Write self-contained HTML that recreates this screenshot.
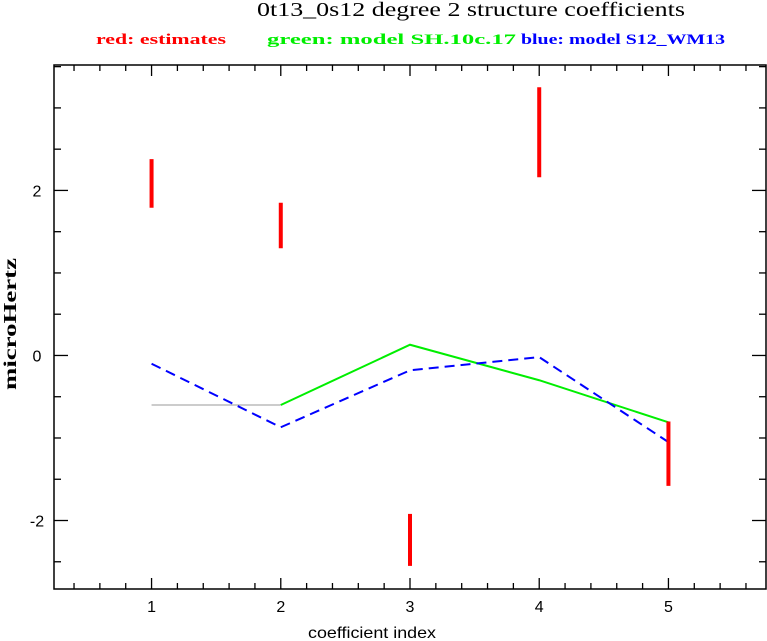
<!DOCTYPE html>
<html><head><meta charset="utf-8"><style>
body{margin:0;background:#fff;}
svg{display:block;font-family:"Liberation Sans",sans-serif;}
</style></head><body>
<svg id="chart" width="767" height="641" viewBox="0 0 767 641" xmlns="http://www.w3.org/2000/svg">
<text x="257" y="16" textLength="428" lengthAdjust="spacingAndGlyphs" font-family="Liberation Serif, serif" font-size="20">0t13_0s12 degree 2 structure coefficients</text>
<text x="96" y="44" textLength="130" lengthAdjust="spacingAndGlyphs" font-family="Liberation Serif, serif" font-weight="bold" font-size="15" fill="#ff0000">red: estimates</text>
<text x="267" y="44" textLength="249" lengthAdjust="spacingAndGlyphs" font-family="Liberation Serif, serif" font-weight="bold" font-size="15" fill="#00ee00">green: model SH.10c.17</text>
<text x="521" y="44" textLength="204" lengthAdjust="spacingAndGlyphs" font-family="Liberation Serif, serif" font-weight="bold" font-size="15" fill="#0000ff">blue: model S12_WM13</text>
<rect x="54" y="65" width="712" height="524" fill="none" stroke="#000" stroke-width="1.5"/>
<g id="axes"></g>
<g id="marks"></g>
<text x="308" y="638" textLength="128" lengthAdjust="spacingAndGlyphs" font-size="16">coefficient index</text>
<text transform="translate(16,324) rotate(-90)" text-anchor="middle" textLength="132" lengthAdjust="spacingAndGlyphs" font-family="Liberation Serif, serif" font-weight="bold" font-size="18">microHertz</text>
</svg>
<script>
const categories=[1,2,3,4,5];
const estLow=[1.79,1.3,-2.55,2.16,-1.58];
const estHigh=[2.38,1.85,-1.92,3.25,-0.8];
const greenModel=[-0.6,-0.6,0.13,-0.3,-0.81];
const blueModel=[-0.1,-0.87,-0.18,-0.02,-1.05];
const xTicks=[1,2,3,4,5];
const yTicks=[-2,0,2];
const NS="http://www.w3.org/2000/svg";
const X0=54,X1=766,Y0=589,Y1=65,xmin=0.245,xmax=5.755,ymin=-2.83,ymax=3.52;
const sx=v=>X0+(v-xmin)/(xmax-xmin)*(X1-X0);
const sy=v=>Y0-(v-ymin)/(ymax-ymin)*(Y0-Y1);
function mk(tag,attrs,parent){const e=document.createElementNS(NS,tag);for(const k in attrs)e.setAttribute(k,attrs[k]);parent.appendChild(e);return e;}
const axes=document.getElementById('axes'),marks=document.getElementById('marks');
for(let v=0.4;v<5.75;v+=0.2){const r=Math.round(v*5)/5;const major=Math.abs(r-Math.round(r))<1e-6;const L=major?11:6;const x=sx(r);
 const t=mk('line',{x1:x,x2:x,y1:Y0,y2:Y0-L,stroke:'#000','stroke-width':1.3},axes);
 
 
 const t2=mk('line',{x1:x,x2:x,y1:Y1,y2:Y1+L,stroke:'#000','stroke-width':1.3},axes);
 
 }
for(let v=-2.5;v<=3.5;v+=0.5){const major=Math.abs(v/2-Math.round(v/2))<1e-6;const L=major?14:7;const y=sy(v);
 const t=mk('line',{x1:X0,x2:X0+L,y1:y,y2:y,stroke:'#000','stroke-width':1.3},axes);
 
 
 const t2=mk('line',{x1:X1,x2:X1-L,y1:y,y2:y,stroke:'#000','stroke-width':1.3},axes);
 
 }
xTicks.forEach(v=>{const t=mk('text',{x:sx(v),y:612,'text-anchor':'middle','font-size':16},axes);t.textContent=v;
 
 });
yTicks.forEach(v=>{const t=mk('text',{x:37,y:sy(v)+6,'text-anchor':'middle','font-size':16},axes);t.textContent=v;
 
 });
const g=mk('line',{x1:sx(categories[0]),x2:sx(categories[1]),y1:sy(greenModel[0]),y2:sy(greenModel[1]),stroke:'#999','stroke-width':1},marks);


const gp=categories.slice(1).map((c,i)=>sx(c)+','+sy(greenModel[i+1])).join(' ');
const gl=mk('polyline',{points:gp,fill:'none',stroke:'#00ee00','stroke-width':2},marks);


const bp=categories.map((c,i)=>sx(c)+','+sy(blueModel[i])).join(' ');
const bl=mk('polyline',{points:bp,fill:'none',stroke:'#0000ff','stroke-width':2,'stroke-dasharray':'10,6'},marks);


categories.forEach((c,i)=>{const b=mk('line',{x1:sx(c),x2:sx(c),y1:sy(estLow[i]),y2:sy(estHigh[i]),stroke:'#ff0000','stroke-width':4},marks);
 
 });
</script>
</body></html>
